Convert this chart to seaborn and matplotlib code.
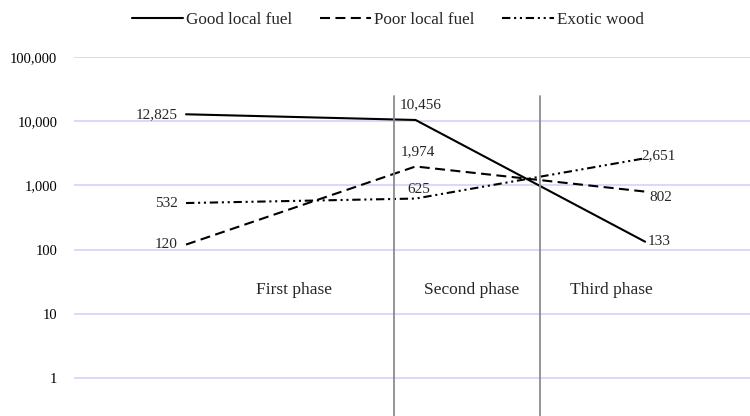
import numpy as np
import pandas as pd
import matplotlib
matplotlib.use("Agg")
import matplotlib.pyplot as plt
import matplotlib.ticker as mticker
import seaborn as sns

# data
phases = ["First phase", "Second phase", "Third phase"]
good_local = [12825, 10456, 133]
poor_local = [120, 1974, 802]
exotic_wood = [532, 625, 2651]
series_names = ["Good local fuel", "Poor local fuel", "Exotic wood"]

rows = []
for name, vals in zip(series_names, [good_local, poor_local, exotic_wood]):
    for i, v in enumerate(vals):
        rows.append({"fuel": name, "pos": i, "value": v})
df = pd.DataFrame(rows)

sns.set_theme(style="white")
plt.rcParams["font.family"] = ["Liberation Serif", "DejaVu Serif"]

fig = plt.figure(figsize=(7.5, 4.16), dpi=100)
ax = fig.add_axes([74 / 750, 0.0, 676 / 750, 1 - 57 / 416])

dash_map = {
    "Good local fuel": "",
    "Poor local fuel": (4.8, 2.6),
    "Exotic wood": (4, 1.8, 1, 1.8, 1, 1.8),
}
sns.lineplot(data=df, x="pos", y="value", style="fuel", dashes=dash_map,
             color="black", linewidth=1.5, ax=ax, legend=True)

ax.set_yscale("log")
ax.set_ylim(10 ** -0.59, 100000)
ax.set_xlim(-0.488, 2.457)

ax.yaxis.set_major_locator(mticker.FixedLocator([1, 10, 100, 1000, 10000, 100000]))
ax.yaxis.set_minor_locator(mticker.NullLocator())
ax.yaxis.set_major_formatter(mticker.FuncFormatter(lambda v, p: f"{int(round(v)):,}"))
ax.grid(axis="y", color="#d6d6fb", linewidth=1.3)
ax.set_axisbelow(True)
ax.set_xticks([])
ax.set_xlabel("")
ax.set_ylabel("")
ax.tick_params(axis="y", length=0, pad=12, labelsize=10.5, colors="black")
for s in ax.spines.values():
    s.set_visible(False)

# phase separators
for xv in [0.906, 1.542]:
    ax.axvline(xv, ymin=0, ymax=(416 - 96) / 359, color="#8c8c8c", linewidth=1.3)

# phase labels
for name, xv in zip(phases, [0.47, 1.246, 1.852]):
    ax.text(xv, 23.7, name, ha="center", va="center", fontsize=12.5)

# value labels
fs = 11
for vals in [good_local, poor_local, exotic_wood]:
    ax.annotate(f"{vals[0]:,}", (0, vals[0]), xytext=(-6, 0), textcoords="offset points",
                ha="right", va="center", fontsize=fs)
ax.annotate(f"{good_local[1]:,}", (1, good_local[1]), xytext=(4, 6), textcoords="offset points",
            ha="center", va="bottom", fontsize=fs)
ax.annotate(f"{poor_local[1]:,}", (1, poor_local[1]), xytext=(2, 6), textcoords="offset points",
            ha="center", va="bottom", fontsize=fs)
ax.annotate(f"{exotic_wood[1]:,}", (1, exotic_wood[1]), xytext=(2, 2), textcoords="offset points",
            ha="center", va="bottom", fontsize=fs)
ax.annotate(f"{exotic_wood[2]:,}", (2, exotic_wood[2]), xytext=(-3, 2), textcoords="offset points",
            ha="left", va="center", fontsize=fs)
ax.annotate(f"{poor_local[2]:,}", (2, poor_local[2]), xytext=(3, -4), textcoords="offset points",
            ha="left", va="center", fontsize=fs)
ax.annotate(f"{good_local[2]:,}", (2, good_local[2]), xytext=(2, 0), textcoords="offset points",
            ha="left", va="center", fontsize=fs)

handles, labels = ax.get_legend_handles_labels()
ax.legend(handles, labels, loc="center", bbox_to_anchor=(0.464, (416 - 20) / 359),
          bbox_transform=ax.transAxes, ncol=3, frameon=False, fontsize=12.3,
          handlelength=3.0, handletextpad=0.2, columnspacing=1.6)

fig.savefig("out.png", dpi=100)
